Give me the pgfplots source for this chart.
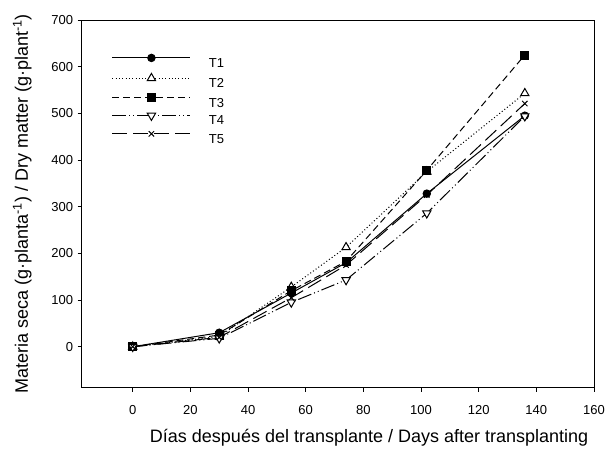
\documentclass[border=0pt]{standalone}
\usepackage{pgfplots}
\pgfplotsset{compat=1.18}
\usepackage{fontspec}
\setmainfont{Liberation Sans}

\begin{document}
\begin{tikzpicture}[x=1pt,y=1pt]
\path[use as bounding box] (0,0) rectangle (608,453);
\begin{axis}[
    at={(81.7pt,65.3pt)}, anchor=south west,
    scale only axis, width=512.3pt, height=367.7pt,
    xmin=-17.7, xmax=160,
    ymin=-87.8, ymax=700,
    xtick={0,20,...,160},
    ytick={0,100,...,700},
    tick pos=left,
    tick align=outside,
    major tick length=4pt,
    tick style={black, line width=0.9pt},
    axis line style={line width=1pt},
    /pgf/number format/assume math mode=true,
    ticklabel style={font=\fontsize{13}{15}\selectfont},
    xticklabel shift=9.7pt,
    yticklabel shift=1pt,
    label style={font=\fontsize{18}{21}\selectfont},
    xlabel={Días después del transplante / Days after transplanting},
    ylabel={Materia seca (g·planta\textsuperscript{-1}) / Dry matter (g·plant\textsuperscript{-1})},
    xlabel style={at={(axis description cs:0.561,-0.150)}, anchor=base},
    ylabel style={at={(axis description cs:-0.105,0.5)}, anchor=base},
    legend cell align=left,
    legend style={at={(axis description cs:0.0586,0.9075)}, anchor=north west,
        draw=none, fill=none, inner sep=0pt, row sep=6.2pt,
        font=\fontsize{13}{15}\selectfont,
        nodes={inner sep=0pt, text height=9.4pt, text depth=0pt}},
    legend image code/.code={
        \draw[mark repeat=2,mark phase=2,yshift=4.6pt,#1]
            plot coordinates {(0pt,0pt)(39pt,0pt)(78pt,0pt)};
        \path (96pt,4.6pt);
    },
    every axis plot/.append style={black, line width=1pt},
]

% T1
\addplot[solid, mark=*, mark size=3.7pt, mark options={solid, fill=black}]
    coordinates {(0,0)(30,30)(55,115)(74,180)(102,328)(136,495)};
% T2
\addplot[dash pattern=on 1pt off 2.3pt, mark=triangle*, mark size=4.8pt,
    mark options={solid, fill=white}]
    coordinates {(0,0)(30,22)(55,128)(74,213)(102,375)(136,543)};
% T3
\addplot[dash pattern=on 7pt off 4pt, mark=square*, mark size=4pt,
    mark options={solid, fill=black}]
    coordinates {(0,0)(30,25)(55,120)(74,183)(102,378)(136,625)};
% T4
\addplot[dash pattern=on 14pt off 3pt on 1pt off 3pt on 1pt off 3pt,
    mark=triangle*, mark size=4.8pt, mark options={solid, fill=white, rotate=180}]
    coordinates {(0,0)(30,18)(55,95)(74,143)(102,286)(136,494)};
% T5
\addplot[dash pattern=on 15pt off 6pt, mark=x, mark size=3.8pt,
    mark options={solid}]
    coordinates {(0,0)(30,20)(55,105)(74,175)(102,325)(136,521)};

\legend{T1, T2, T3, T4, T5}
\end{axis}
\end{tikzpicture}
\end{document}
